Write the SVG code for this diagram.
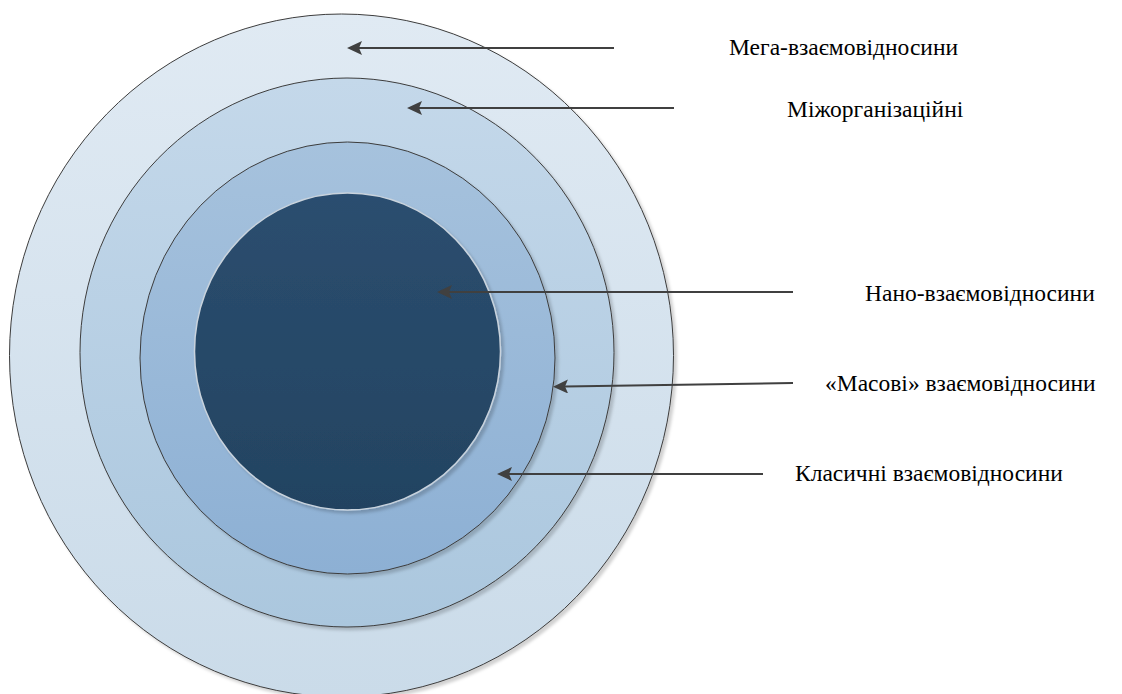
<svg xmlns="http://www.w3.org/2000/svg" width="1122" height="694" viewBox="0 0 1122 694">
<style>
.ring{stroke:#3c3c3c;stroke-width:1;filter:url(#sh)}
.arrow{stroke:#404040;stroke-width:2;fill:none;marker-end:url(#ah)}
.lbl{font-family:"Liberation Serif","Times New Roman",serif;font-size:23.5px;fill:#000}
</style>
<defs>
<linearGradient id="g1" x1="0" y1="0" x2="0" y2="1"><stop offset="0" stop-color="#E0EAF3"/><stop offset="1" stop-color="#CADBE9"/></linearGradient>
<linearGradient id="g2" x1="0" y1="0" x2="0" y2="1"><stop offset="0" stop-color="#C4D8EA"/><stop offset="1" stop-color="#ABC7DE"/></linearGradient>
<linearGradient id="g3" x1="0" y1="0" x2="0" y2="1"><stop offset="0" stop-color="#A6C2DD"/><stop offset="1" stop-color="#8DB0D4"/></linearGradient>
<linearGradient id="g4" x1="0" y1="0" x2="0" y2="1"><stop offset="0" stop-color="#2B4E6F"/><stop offset="1" stop-color="#234361"/></linearGradient>
<filter id="sh" x="-10%" y="-10%" width="120%" height="120%"><feDropShadow dx="3" dy="3" stdDeviation="1.5" flood-color="#000" flood-opacity="0.18"/></filter>
<marker id="ah" viewBox="0 0 15 14" refX="3" refY="7" markerWidth="15" markerHeight="14" markerUnits="userSpaceOnUse" orient="auto"><path d="M0,0 L15,7 L0,14 L3,7 z" fill="#404040"/></marker>
</defs>
<g id="mega"><ellipse class="ring" cx="341.5" cy="355.5" rx="332" ry="341.5" fill="url(#g1)"/></g>
<g id="mizhorg"><ellipse class="ring" cx="347" cy="352.5" rx="267" ry="274.5" fill="url(#g2)"/></g>
<g id="masovi"><ellipse class="ring" cx="347.5" cy="358" rx="207.5" ry="216" fill="url(#g3)"/></g>
<g id="nano"><ellipse cx="347.5" cy="351.5" rx="153" ry="158.5" fill="url(#g4)" stroke="#c9d3dd" stroke-width="1.5" filter="url(#sh)"/></g>
<g id="connectors">
<line class="arrow" x1="614" y1="48" x2="359" y2="48"/>
<line class="arrow" x1="674" y1="108" x2="419" y2="108"/>
<line class="arrow" x1="793" y1="292" x2="449" y2="292"/>
<line class="arrow" x1="793" y1="383" x2="565" y2="386.5"/>
<line class="arrow" x1="763" y1="474" x2="509" y2="474"/>
</g>
<g id="labels">
<text class="lbl" x="729" y="55">Мега-взаємовідносини</text>
<text class="lbl" x="787" y="117">Міжорганізаційні</text>
<text class="lbl" x="865" y="301">Нано-взаємовідносини</text>
<text class="lbl" x="825" y="391">«Масові» взаємовідносини</text>
<text class="lbl" x="795" y="481">Класичні взаємовідносини</text>
</g>
</svg>
